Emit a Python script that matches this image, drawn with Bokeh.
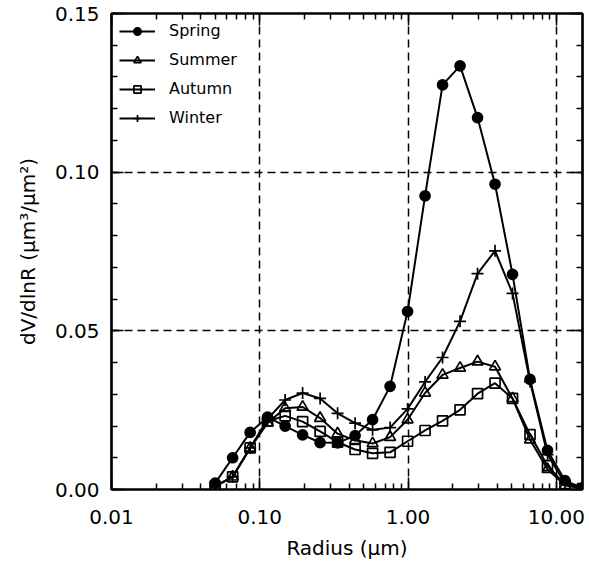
from bokeh.plotting import figure
from bokeh.models import (LogAxis, LinearAxis, FixedTicker, NumeralTickFormatter,
                          Range1d, Legend, LegendItem)
from bokeh.embed import file_html
from bokeh.resources import INLINE

# Radius bins (um)
radius = [0.05, 0.0656, 0.0861, 0.1129, 0.1482, 0.1944, 0.2551, 0.3347, 0.4392,
          0.5762, 0.7561, 0.9920, 1.3016, 1.7078, 2.2407, 2.9400, 3.8575, 5.0613,
          6.6407, 8.7131, 11.4323, 15.0]

spring = [0.002, 0.010, 0.018, 0.0228, 0.020, 0.0172, 0.0148, 0.0147, 0.017, 0.022,
          0.0325, 0.0561, 0.0925, 0.1275, 0.1335, 0.1172, 0.0962, 0.0678, 0.0347,
          0.0123, 0.0028, 0.0005]
summer = [0.001, 0.004, 0.0131, 0.021, 0.0256, 0.026, 0.0225, 0.0176, 0.0155, 0.0145,
          0.0165, 0.022, 0.0304, 0.0361, 0.0383, 0.0403, 0.0387, 0.0287, 0.0157,
          0.0064, 0.0013, 0.0003]
autumn = [0.001, 0.004, 0.0131, 0.0215, 0.0232, 0.0214, 0.0183, 0.0149, 0.0126, 0.0114,
          0.0117, 0.0152, 0.0186, 0.0216, 0.0251, 0.0302, 0.0335, 0.0287, 0.0173,
          0.0075, 0.0015, 0.0003]
winter = [0.001, 0.004, 0.0131, 0.0222, 0.0282, 0.0304, 0.0287, 0.024, 0.0209, 0.0188,
          0.0195, 0.0254, 0.0339, 0.0416, 0.053, 0.068, 0.0752, 0.0618, 0.034,
          0.011, 0.002, 0.0004]

x_ticks = [0.01, 0.1, 1, 10]
y_ticks = [0.0, 0.05, 0.10, 0.15]

FONT = "DejaVu Sans"

p = figure(x_axis_type="log", x_range=Range1d(0.01, 15), y_range=Range1d(0, 0.15),
           width=589, height=563,
           min_border_left=111, min_border_right=7, min_border_top=13, min_border_bottom=74,
           output_backend="svg", toolbar_location=None,
           background_fill_color="white", border_fill_color="white",
           outline_line_color="black", outline_line_width=2.2)

x_minor = [m * 10.0 ** e for e in range(-2, 2) for m in range(2, 10)]
y_minor = [i / 100 for i in range(0, 16)]

xt = FixedTicker(ticks=x_ticks, minor_ticks=x_minor)
yt = FixedTicker(ticks=y_ticks, minor_ticks=y_minor)

def style_axis(ax, labels=True):
    ax.axis_line_width = 2.2
    ax.axis_line_color = "black"
    ax.major_tick_in = 12
    ax.major_tick_out = 0
    ax.minor_tick_in = 6
    ax.minor_tick_out = 0
    ax.major_tick_line_width = 1.5
    ax.minor_tick_line_width = 1.5
    ax.major_tick_line_color = "black"
    ax.minor_tick_line_color = "black"
    ax.major_label_text_font = FONT
    ax.axis_label_text_font = FONT
    ax.axis_label_text_font_style = "normal"
    ax.axis_label_text_color = "black"
    if labels:
        ax.major_label_text_color = "black"
        ax.major_label_text_font_size = "20px"
        ax.axis_label_text_font_size = "20px"
    else:
        ax.major_label_text_color = None
        ax.major_label_text_font_size = "1px"
        ax.major_label_standoff = 0

xa = p.xaxis[0]
xa.ticker = xt
xa.formatter = NumeralTickFormatter(format="0.00")
xa.axis_label = "Radius (μm)"
style_axis(xa)
xa.major_label_standoff = 20
xa.axis_label_standoff = 9

ya = p.yaxis[0]
ya.ticker = yt
ya.formatter = NumeralTickFormatter(format="0.00")
ya.axis_label = "dV/dlnR (μm³/μm²)"
style_axis(ya)
ya.major_label_standoff = 12
ya.axis_label_standoff = 12

top = LogAxis(ticker=FixedTicker(ticks=x_ticks, minor_ticks=x_minor))
style_axis(top, labels=False)
p.add_layout(top, "above")
right = LinearAxis(ticker=FixedTicker(ticks=y_ticks, minor_ticks=y_minor))
style_axis(right, labels=False)
p.add_layout(right, "right")

p.xgrid.ticker = xt
p.ygrid.ticker = yt
for g in (p.xgrid, p.ygrid):
    g.grid_line_color = "black"
    g.grid_line_dash = "8 5"
    g.grid_line_width = 1.5

LW = 2.0
items = []
series = [
    ("Spring", spring, "circle", 10, "black", 1),
    ("Summer", summer, "triangle", 11, "white", 0),
    ("Autumn", autumn, "square", 10, "white", 0),
    ("Winter", winter, "cross", 12, "white", 0),
]
for name, ys, marker, size, fill, falpha in series:
    lr = p.line(radius, ys, line_color="black", line_width=LW)
    sr = p.scatter(radius, ys, marker=marker, size=size, line_color="black",
                   line_width=1.7, fill_color=fill, fill_alpha=falpha)
    items.append(LegendItem(label=name, renderers=[lr, sr]))

legend = Legend(items=items, location="top_left")
legend.border_line_color = None
legend.background_fill_alpha = 0
legend.label_text_font = FONT
legend.label_text_font_size = "16px"
legend.label_text_color = "black"
legend.glyph_width = 36
legend.glyph_height = 18
legend.label_height = 18
legend.label_standoff = 14
legend.spacing = 10
legend.margin = 8
legend.padding = 12
p.add_layout(legend)

open("out.html", "w").write(file_html(p, INLINE))
